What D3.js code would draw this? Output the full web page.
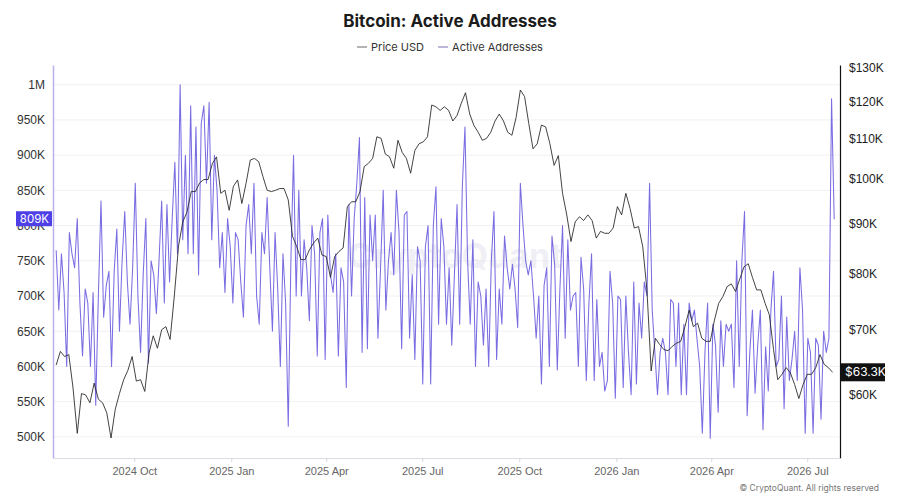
<!DOCTYPE html>
<html>
<head>
<meta charset="utf-8">
<script src="https://cdn.jsdelivr.net/npm/d3@7"></script>
<style>
  body { margin: 0; background: #fff; }
  svg { font-family: Inter, Roboto, "Noto Sans", sans-serif; }
</style>
</head>
<body>
<svg id="chart" width="900" height="500"></svg>
<script>
// active addresses, read every 2.5 days from 19 Jul 2024 (thousands)
var addressStart = new Date(2024, 6, 19),
    addressStepDays = 2.5,
    addressK = [
        765, 680, 760, 705, 600, 790, 760, 740, 810, 690,
        615, 710, 690, 600, 705, 545, 700, 835, 670, 715,
        735, 600, 735, 795, 650, 750, 820, 720, 660, 740,
        860, 700, 620, 730, 810, 605, 750, 730, 675, 750,
        835, 690, 830, 720, 810, 890, 760, 1000, 780, 900,
        760, 970, 760, 940, 730, 945, 970, 860, 975, 780,
        900,
        850, 740, 790, 705, 810, 770, 690, 790, 780, 720,
        670, 800, 830, 760, 860, 700, 660, 790, 760, 840,
        740, 650, 790, 710, 600, 760, 690, 515, 750, 900,
        700, 850, 700, 780, 740, 665, 800, 760, 615, 790,
        810, 610, 815, 730, 705, 760, 615, 740, 720, 570,
        830, 700, 810, 860, 925, 620, 840, 625, 815, 750,
        815, 640, 740, 850, 680, 750, 790, 730, 850, 790,
        625, 815, 820, 640, 730, 610, 770, 750, 575, 770,
        800, 575, 800, 855, 660, 810, 770, 660, 740, 630,
        730, 830, 660, 855, 940, 750, 660, 780, 600, 720,
        700, 630, 710, 600, 750, 820, 610, 710, 660, 785,
        740, 710, 745, 710, 655, 860, 800, 750, 730, 750,
        700,
        640, 700, 575, 715, 740, 600, 785, 745, 595, 710,
        800, 640, 780, 680, 700, 705, 600, 755, 710, 580,
        690, 760, 580, 695, 600, 620, 565, 580, 735, 690,
        555, 700, 695, 570, 700, 620, 560, 720, 575, 690,
        640, 720, 700, 860, 680, 620, 560, 620, 640, 620,
        560, 695, 690, 600, 690, 560, 660, 560, 690, 665,
        680,
        638, 600, 505, 620, 690, 498, 660, 630, 535, 665,
        600, 660, 650, 660, 570, 750, 600, 750, 820, 530,
        620, 680, 562, 630, 680, 510, 628, 565, 680, 735,
        600, 610, 700, 540, 670, 580, 610, 650, 580, 740,
        680, 505, 640, 620, 505, 640, 630, 525, 650, 620,
        640, 980, 809
    ];

// BTC price, read every 4 days from 19 Jul 2024 (thousand USD)
var priceStart = new Date(2024, 6, 19),
    priceStepDays = 4,
    priceK = [
        64.4, 66.5, 65.7, 66.0, 61.0, 54.8, 60.2, 60.0, 58.9, 61.7,
        59.4, 58.9, 57.5, 54.2, 58.0, 60.2, 62.2, 63.6, 65.7, 62.0,
        62.2, 60.5, 66.2, 69.0, 67.0, 70.0, 70.5, 68.4, 75.8, 85.3,
        90.3, 92.4, 97.0, 97.0, 99.0, 99.8, 99.8, 103.6,
        105.3, 96.6, 97.3, 92.8, 98.2, 99.7, 94.3, 98.9, 104.5, 104.9,
        104.1, 100.5, 97.3, 97.0, 97.3, 97.7, 97.7, 95.1, 87.3, 85.2,
        82.6, 82.6, 84.5, 85.9, 86.9, 83.5, 83.2, 79.2, 83.2, 84.2,
        84.9, 93.6, 94.7, 94.7, 97.0, 102.9, 103.7, 104.9,
        110.4, 110.0, 106.0, 105.3, 102.5, 109.5, 106.4, 104.9, 101.3, 106.9,
        108.6, 109.1, 110.4, 119.0, 118.5, 117.5, 118.5, 117.5, 114.6, 116.1,
        119.5, 122.5, 116.5, 113.4, 111.6, 109.5, 110.0, 111.6, 114.6, 116.5,
        114.6, 111.6, 110.8, 115.6, 123.3, 121.4, 113.9, 107.3,
        108.6, 113.5, 113.0, 108.6, 103.2, 105.6, 96.6, 91.8, 86.2, 90.3,
        91.4, 90.6, 91.8, 90.6, 86.9, 88.3, 87.9, 87.9, 89.0, 93.6,
        91.8, 96.6, 93.2, 89.0, 89.3, 85.2, 76.9, 63.5, 68.6, 67.6,
        66.8, 66.6, 67.3, 67.8, 68.1, 70.5, 73.3, 70.5,
        71.1, 68.6, 68.1, 68.1, 71.6, 74.5, 75.7, 77.5, 78.0, 76.6,
        78.9, 81.2, 81.8, 79.2, 76.9, 76.9, 74.5, 72.5, 66.8, 62.2,
        63.0, 64.0, 63.2, 61.5, 59.5, 61.5, 63.0, 63.0, 64.0, 66.0,
        64.5, 64.0, 63.3
    ];

var leftTicks = [500000, 550000, 600000, 650000, 700000, 750000, 800000, 850000, 900000, 950000, 1000000],
    rightTicks = [60000, 70000, 80000, 90000, 100000, 110000, 120000, 130000],
    legendLabels = ["Price USD", "Active Addresses"],
    chartTitle = "Bitcoin: Active Addresses";

function step_series(start, stepDays, values, unit) {
    return values.map( (v, i) => ({
        date: new Date(start.getTime() + i * stepDays * 864e5),
        value: v * unit
    }));
}

var addresses = step_series(addressStart, addressStepDays, addressK, 1000),
    prices = step_series(priceStart, priceStepDays, priceK, 1000),
    svg = d3.select("#chart"),
    plotLeft = 53, plotRight = 840, plotTop = 65, plotBottom = 458,
    x = d3.scaleTime().domain([new Date(2024, 6, 16), new Date(2026, 7, 1)]).range([plotLeft, plotRight]),
    yLeft = d3.scaleLinear().domain([470000, 1028000]).range([plotBottom, plotTop]),
    yRight = d3.scaleLog().domain([51700, 130800]).range([plotBottom, plotTop]),
    purple = "#7a6de2"
;

// title + legend
svg.append("text")
    .attr("x", 450).attr("y", 27)
    .attr("text-anchor", "middle")
    .attr("font-size", 17).attr("font-weight", 700)
    .attr("fill", "#1b1b1b")
    .text(chartTitle);

var legend = svg.append("g").attr("transform", "translate(0,47)"),
    legendColors = ["#9a9a9a", "#a3a0c8"],
    cursor = 0;
legendLabels.forEach( (label, i) => {
    var g = legend.append("g").attr("transform", "translate(" + cursor + ",0)");
    g.append("line").attr("x1", 0).attr("x2", 10).attr("stroke", legendColors[i]).attr("stroke-width", 1.5);
    var t = g.append("text").attr("x", 14).attr("dy", "0.35em")
        .attr("font-size", 11).attr("fill", "#333").text(label);
    cursor += 14 + t.node().getComputedTextLength() + 14;
});
legend.attr("transform", "translate(" + (450 - (cursor - 14) / 2) + ",47)");

// gridlines
svg.append("g")
    .selectAll("line")
    .data(leftTicks)
    .join("line")
    .attr("x1", plotLeft).attr("x2", plotRight)
    .attr("y1", d => yLeft(d)).attr("y2", d => yLeft(d))
    .attr("stroke", "#f1f1f4");

// watermark
svg.append("text")
    .attr("x", 455).attr("y", 268)
    .attr("text-anchor", "middle")
    .attr("font-size", 34).attr("font-weight", 700)
    .attr("fill", "#e4e3ee").attr("opacity", 0.55)
    .text("CryptoQuant");

// series
svg.append("path")
    .datum(addresses)
    .attr("fill", "none")
    .attr("stroke", purple)
    .attr("stroke-width", 1.05)
    .attr("stroke-linejoin", "round")
    .attr("d", d3.line().x(d => x(d.date)).y(d => yLeft(d.value)));

svg.append("path")
    .datum(prices)
    .attr("fill", "none")
    .attr("stroke", "#222")
    .attr("stroke-width", 0.85)
    .attr("stroke-linejoin", "round")
    .attr("d", d3.line().x(d => x(d.date)).y(d => yRight(d.value)));

// axes
var axisLeft = svg.append("g")
    .attr("transform", "translate(" + plotLeft + ",0)")
    .call(d3.axisLeft(yLeft).tickValues(leftTicks).tickSize(0).tickPadding(8)
        .tickFormat(d => d >= 1e6 ? (d / 1e6) + "M" : (d / 1000) + "K"));
axisLeft.select(".domain").attr("stroke", "#b8b1ea").attr("stroke-width", 1.5);
axisLeft.selectAll("text").attr("font-size", 12).attr("fill", "#333");

var axisRight = svg.append("g")
    .attr("transform", "translate(" + plotRight + ",0)")
    .call(d3.axisRight(yRight).tickValues(rightTicks).tickSize(0).tickPadding(9)
        .tickFormat(d => "$" + (d / 1000) + "K"));
axisRight.select(".domain").attr("stroke", "#111").attr("stroke-width", 1.2);
axisRight.selectAll("text").attr("font-size", 12).attr("fill", "#222");

var axisBottom = svg.append("g")
    .attr("transform", "translate(0," + plotBottom + ")")
    .call(d3.axisBottom(x).ticks(d3.timeMonth.every(3)).tickSize(4).tickSizeOuter(0).tickPadding(5)
        .tickFormat(d3.timeFormat("%Y %b")));
axisBottom.select(".domain").attr("stroke", "#dcdbe6");
axisBottom.selectAll(".tick line").attr("stroke", "#d6d6de");
axisBottom.selectAll("text").attr("font-size", 11).attr("fill", "#666");

// last-value badges
var lastAddress = addresses[addresses.length - 1],
    lastPrice = prices[prices.length - 1],
    badgeA = svg.append("g").attr("transform", "translate(0," + yLeft(lastAddress.value) + ")"),
    badgeP = svg.append("g").attr("transform", "translate(" + (plotRight + 1) + "," + yRight(lastPrice.value) + ")");

badgeA.append("rect").attr("x", 16).attr("y", -8).attr("width", 36).attr("height", 15).attr("fill", "#4f3fe6");
badgeA.append("text").attr("x", 49).attr("dy", "0.3em").attr("text-anchor", "end")
    .attr("font-size", 11.5).attr("fill", "#fff")
    .text(Math.round(lastAddress.value / 1000) + "K");

badgeP.append("rect").attr("x", 0).attr("y", -9).attr("width", 44).attr("height", 18).attr("fill", "#111");
badgeP.append("text").attr("x", 4).attr("dy", "0.35em")
    .attr("font-size", 12).attr("fill", "#fff")
    .text("$" + (lastPrice.value / 1000).toFixed(1) + "K");

// credit
svg.append("text")
    .attr("x", 879).attr("y", 491)
    .attr("text-anchor", "end")
    .attr("font-size", 8.5).attr("fill", "#777")
    .text("\u00a9 CryptoQuant. All rights reserved");
</script>
</body>
</html>
